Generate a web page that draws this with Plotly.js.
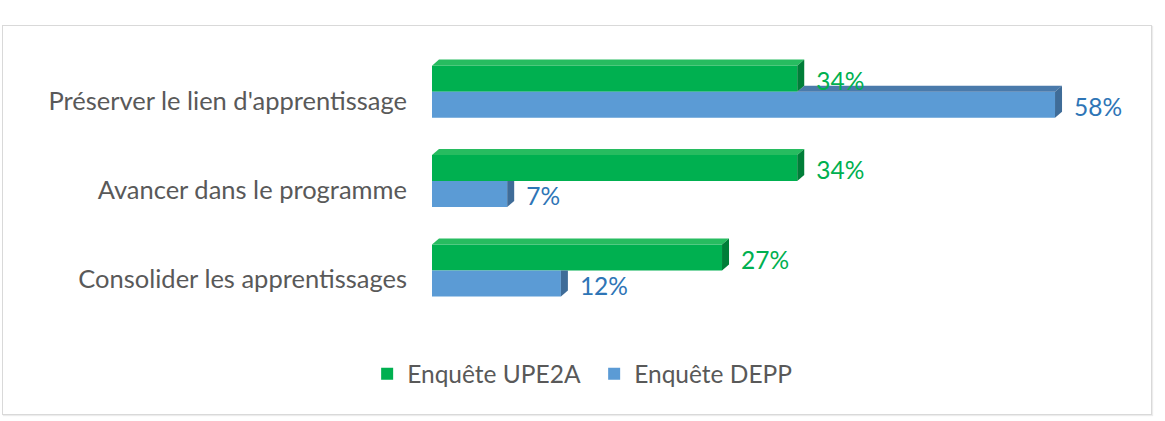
<!DOCTYPE html>
<html>
<head>
<meta charset="utf-8">
<script src="https://cdn.plot.ly/plotly-3.0.1.min.js"></script>
<style>
  html, body { margin: 0; padding: 0; background: #ffffff; }
  #wrap { position: relative; width: 1165px; height: 421px; overflow: hidden; }
  #frame { position: absolute; left: 2px; top: 25px; width: 1148px; height: 388px; border: 1px solid #d9d9d9; box-shadow: 1px 1px 1px #ececec; }
  #chart { position: absolute; left: 0; top: 0; width: 1165px; height: 421px; }
</style>
</head>
<body>
<div id="wrap">
  <div id="frame"></div>
  <div id="chart"></div>
</div>
<script>
// Survey answers, bottom-to-top order on the vertical axis
const categories = [
  'Consolider les apprentissages',
  'Avancer dans le programme',
  "Préserver le lien d'apprentissage"
];
const upe2aValues = [27, 34, 34];
const deppValues = [12, 7, 58];
const seriesNames = ['Enquête UPE2A', 'Enquête DEPP'];

// Geometry of the plot area (pixels) and bar styling
const W = 1165, H = 421;
const margin = { l: 432, r: 67, t: 38, b: 97 };
const xRange = [0, 62];
const yRange = [-0.6, 2.6];
const plotW = W - margin.l - margin.r;
const plotH = H - margin.t - margin.b;
const xPerPx = (xRange[1] - xRange[0]) / plotW;
const yPerPx = (yRange[1] - yRange[0]) / plotH;

const barW = 26 * yPerPx;       // thickness of each front face
const DX = 7 * xPerPx;          // depth offset to the right
const DY = 6 * yPerPx;          // depth offset upwards
const labelGap = 12 * xPerPx;
const FONT = 'Lato, "Open Sans", sans-serif';

const green = { front: '#00B050', top: '#27BC60', side: '#007E38', text: '#00B050' };
const blue  = { front: '#5B9BD5', top: '#4A7AAB', side: '#3F6C98', text: '#2E75B6' };

const pos = categories.map((_, i) => i);
const traces = [];

// Front faces as bars
traces.push({
  type: 'bar', orientation: 'h', name: seriesNames[0],
  y: pos, x: upe2aValues, width: barW, offset: 0,
  marker: { color: green.front, line: { width: 0 } },
  hoverinfo: 'skip', legendrank: 1
});
traces.push({
  type: 'bar', orientation: 'h', name: seriesNames[1],
  y: pos, x: deppValues, width: barW, offset: -barW,
  marker: { color: blue.front, line: { width: 0 } },
  hoverinfo: 'skip', legendrank: 2
});

// Depth faces (top and right side) as filled polygons
function face(xs, ys, color) {
  traces.push({
    type: 'scatter', mode: 'lines', x: xs.concat([xs[0]]), y: ys.concat([ys[0]]),
    fill: 'toself', fillcolor: color, line: { width: 0, color: color },
    hoverinfo: 'skip', showlegend: false
  });
}

pos.forEach((c, i) => {
  const g = upe2aValues[i];
  const b = deppValues[i];
  // blue series (lower bar): faces not hidden by the green bar
  if (b > g) {
    face([g, b, b + DX, g + DX], [c, c, c + DY, c + DY], blue.top);
  }
  const sideTop = b > g ? c + DY : c;
  face([b, b, b + DX, b + DX], [c - barW, c, sideTop, c - barW + DY], blue.side);
  // green series (upper bar)
  face([0, g, g + DX, DX], [c + barW, c + barW, c + barW + DY, c + barW + DY], green.top);
  face([g, g, g + DX, g + DX], [c, c + barW, c + barW + DY, c + DY], green.side);
});

// Value labels
function labels(values, yShift, color) {
  traces.push({
    type: 'scatter', mode: 'text',
    x: values.map(v => v + DX + labelGap),
    y: pos.map(c => c + yShift),
    text: values.map(v => v + '%'),
    textposition: 'middle right',
    textfont: { family: FONT, size: 24.5, color: color },
    cliponaxis: false, hoverinfo: 'skip', showlegend: false
  });
}
labels(upe2aValues, barW / 2 - 5 * yPerPx, green.text);
labels(deppValues, -barW / 2 - 5 * yPerPx, blue.text);

const layout = {
  width: W, height: H,
  margin: margin,
  paper_bgcolor: 'rgba(0,0,0,0)',
  plot_bgcolor: 'rgba(0,0,0,0)',
  barmode: 'overlay',
  showlegend: true,
  font: { family: FONT, color: '#595959' },
  xaxis: {
    range: xRange, showgrid: false, zeroline: false, showline: false,
    showticklabels: false, ticks: '', fixedrange: true
  },
  yaxis: {
    range: yRange, tickmode: 'array', tickvals: pos, ticktext: categories,
    showgrid: false, zeroline: false, showline: false, ticks: '',
    ticklabelstandoff: 24, ticklabelshift: 9,
    tickfont: { family: FONT, size: 25.5, color: '#595959' },
    fixedrange: true
  },
  legend: {
    orientation: 'h', xref: 'container', yref: 'container',
    x: 0.51, xanchor: 'center', y: 0.112, yanchor: 'middle',
    font: { family: FONT, size: 24.5, color: '#595959' },
    itemwidth: 30, entrywidth: 182, traceorder: 'normal'
  }
};

Plotly.newPlot('chart', traces, layout, { staticPlot: true, displayModeBar: false });
</script>
</body>
</html>
